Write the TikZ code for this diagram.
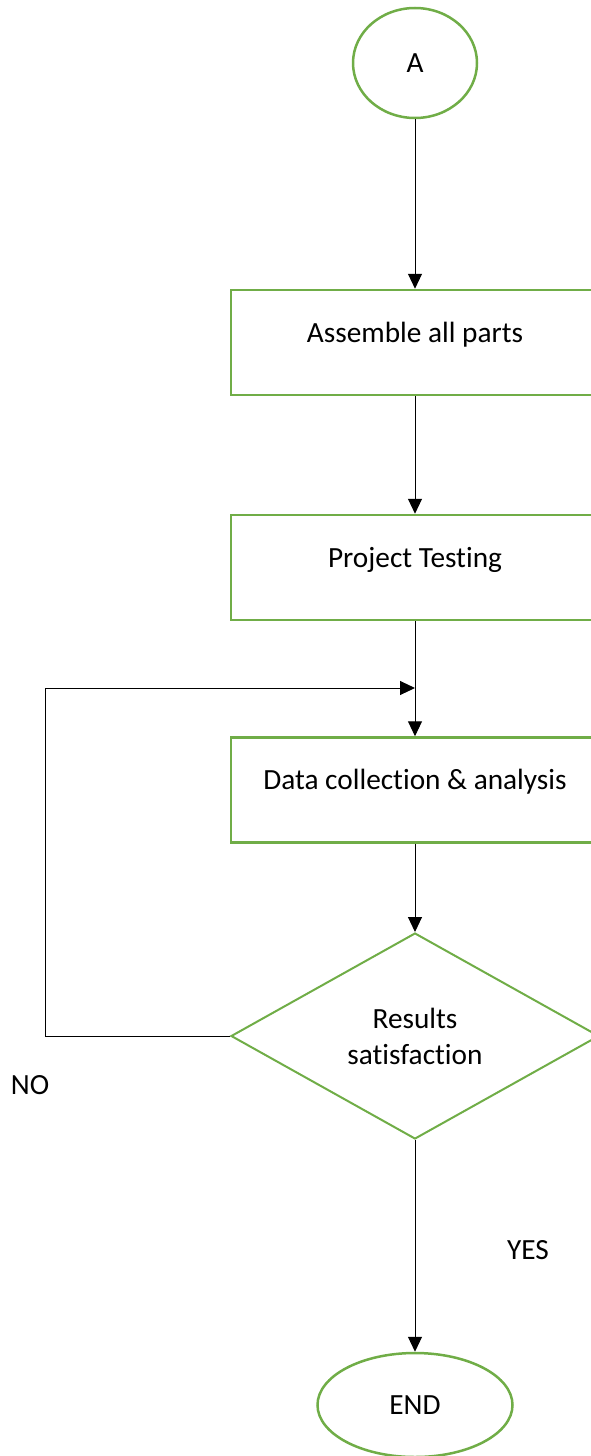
\documentclass[tikz,border=0pt]{standalone}
\usepackage{fontspec}
\setmainfont[Ligatures=NoCommon]{Carlito}
\usetikzlibrary{arrows.meta,shapes.geometric}
\definecolor{grn}{HTML}{70AD47}
\tikzset{
  term/.style={ellipse,draw=grn,line width=2.5pt,inner sep=0pt},
  proc/.style={draw=grn,line width=2.5pt,minimum width=368pt,inner xsep=0pt,inner ysep=0pt,text height=52pt,text depth=53pt},
  dec/.style={diamond,draw=grn,line width=2pt,minimum width=368pt,minimum height=206pt,inner sep=0pt,align=center},
  ar/.style={-{Triangle[length=15pt,width=14pt]},line width=1pt},
}

\begin{document}
\begin{tikzpicture}[x=1pt,y=-1pt,every node/.style={font=\fontsize{29.3}{36}\selectfont}]
  \useasboundingbox (0,0) rectangle (590,1456);
  \node[term,minimum width=124pt,minimum height=110pt] (a) at (415,63) {A};
  \node[proc] (asm) at (415,342.5) {Assemble all parts};
  \node[proc] (test) at (415,567.5) {Project Testing};
  \node[proc] (data) at (415,790) {Data collection \& analysis};
  \node[dec] (res) at (415,1036) {Results\\satisfaction};
  \node[term,minimum width=195pt,minimum height=104pt] (fin) at (415,1405) {END};
  \node (no) at (30,1085) {NO};
  \node (yes) at (528,1250) {YES};
  \coordinate (lp) at (45,688);
  \draw[ar] (a) -- (asm);
  \draw[ar] (asm) -- (test);
  \draw[ar] (test) -- (data);
  \draw[ar] (data) -- (res);
  \draw[ar] (res) -- (fin);
  \draw[ar] (res.west) -- (res.west -| lp) -- (lp) -- (test.south |- lp);
\end{tikzpicture}
\end{document}
